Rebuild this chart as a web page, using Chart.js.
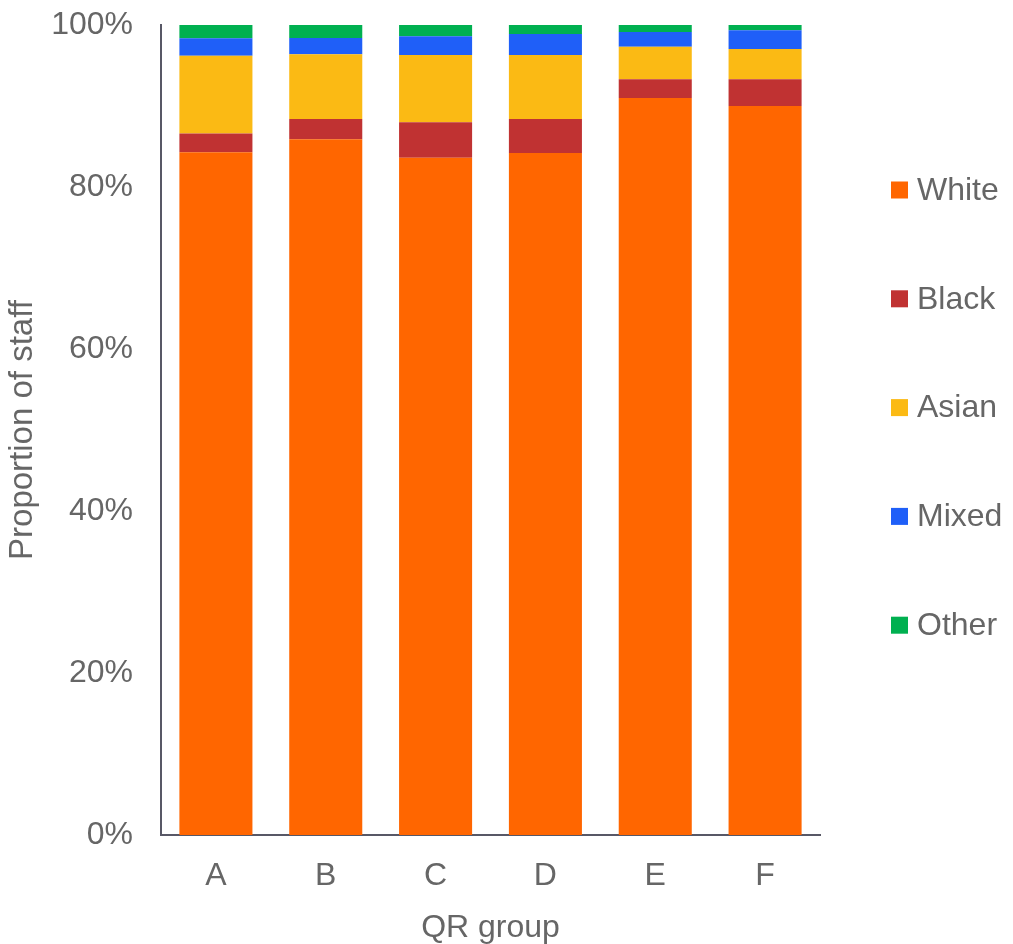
<!DOCTYPE html>
<html>
<head>
<meta charset="utf-8">
<title>Proportion of staff by QR group</title>
<script src="https://cdn.jsdelivr.net/npm/chart.js@4/dist/chart.umd.min.js"></script>
<style>
  html, body { margin: 0; padding: 0; background: #ffffff; }
  #wrap { width: 1013px; height: 944px; position: relative; }
</style>
</head>
<body>
<div id="wrap"><canvas id="chart"></canvas></div>
<script>
// QR groups along the x axis
const groups = ['A', 'B', 'C', 'D', 'E', 'F'];

// Share of staff in each ethnic group (percent of each QR group)
const white = [84.3, 85.9, 83.6, 84.2, 91.0, 90.0];
const black = [2.3, 2.5, 4.4, 4.2, 2.3, 3.3];
const asian = [9.6, 8.0, 8.3, 7.9, 4.0, 3.75];
const mixed = [2.15, 2.0, 2.3, 2.6, 1.85, 2.3];
const other = [1.65, 1.6, 1.4, 1.1, 0.85, 0.65];

// Y axis tick values
const yTicks = [0, 20, 40, 60, 80, 100];

const FONT = "'Liberation Sans', Arial, sans-serif";
const TEXT = '#666666';
const AXIS = '#585866';

// Legend drawn down the right-hand side, one entry per series
const sideLegend = {
  id: 'sideLegend',
  afterDraw(chart) {
    const { ctx, chartArea } = chart;
    const x0 = chartArea.right + 71;
    const y0 = chartArea.top + 165;
    const step = 108.8;
    ctx.save();
    ctx.font = '32px ' + FONT;
    ctx.textBaseline = 'middle';
    ctx.textAlign = 'left';
    chart.data.datasets.forEach((ds, i) => {
      const y = y0 + i * step;
      ctx.fillStyle = ds.backgroundColor;
      ctx.fillRect(x0, y - 8.5, 17, 17);
      ctx.fillStyle = TEXT;
      ctx.fillText(ds.label, x0 + 26, y + 1);
    });
    ctx.restore();
  }
};

new Chart(document.getElementById('chart'), {
  type: 'bar',
  data: {
    labels: groups,
    datasets: [
      { label: 'White', data: white, backgroundColor: '#FF6600' },
      { label: 'Black', data: black, backgroundColor: '#C03232' },
      { label: 'Asian', data: asian, backgroundColor: '#FBBA14' },
      { label: 'Mixed', data: mixed, backgroundColor: '#1F5FF8' },
      { label: 'Other', data: other, backgroundColor: '#00B050' }
    ]
  },
  options: {
    responsive: true,
    maintainAspectRatio: false,
    animation: false,
    devicePixelRatio: 1,
    layout: { padding: { top: 25, right: 193, bottom: 0, left: 0 } },
    datasets: {
      bar: { categoryPercentage: 1, barPercentage: 0.665, borderWidth: 0 }
    },
    plugins: {
      legend: { display: false },
      tooltip: { enabled: false }
    },
    scales: {
      x: {
        stacked: true,
        grid: { display: false, drawTicks: false },
        border: { display: true, color: AXIS, width: 2 },
        ticks: { color: TEXT, font: { family: FONT, size: 32 }, padding: 22 },
        title: {
          display: true, text: 'QR group', color: TEXT,
          font: { family: FONT, size: 32 }, padding: { top: 0, bottom: -3 }
        },
        afterFit(scale) { scale.height = 109; }
      },
      y: {
        stacked: true,
        min: 0,
        max: 100,
        afterBuildTicks(scale) { scale.ticks = yTicks.map(v => ({ value: v })); },
        grid: { display: false, drawTicks: false },
        border: { display: true, color: AXIS, width: 2 },
        ticks: {
          color: TEXT, font: { family: FONT, size: 32 }, padding: 28,
          callback: v => v + '%'
        },
        title: {
          display: true, text: 'Proportion of staff', color: TEXT,
          font: { family: FONT, size: 33 }, padding: { top: 3, bottom: 0 }
        },
        afterFit(scale) {
          scale.width = 161;
          scale.paddingTop = 0;
          scale.paddingBottom = 0;
        }
      }
    }
  },
  plugins: [sideLegend]
});
</script>
</body>
</html>
